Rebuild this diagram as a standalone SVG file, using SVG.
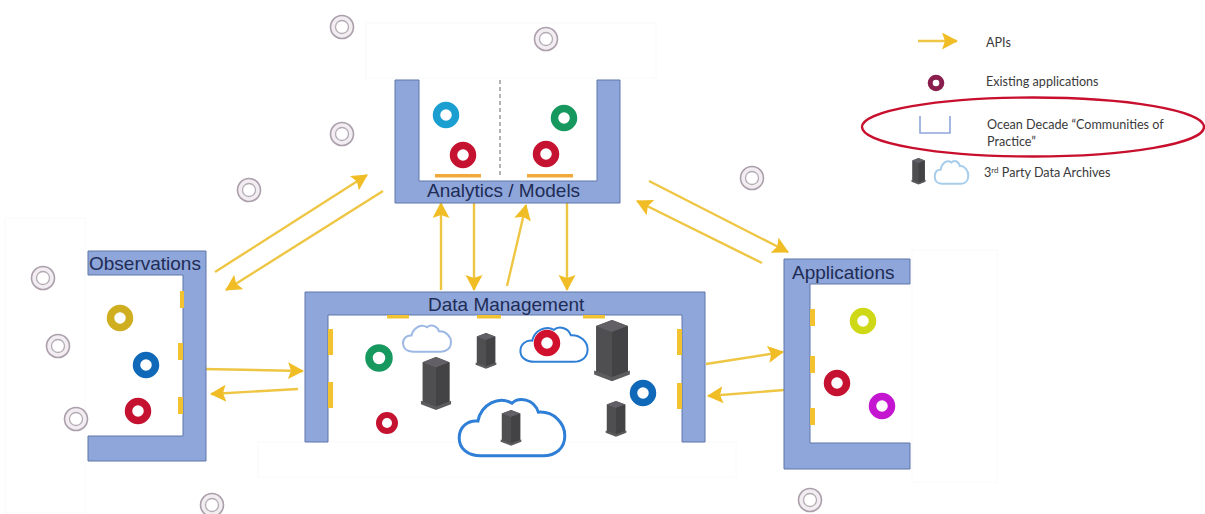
<svg xmlns="http://www.w3.org/2000/svg" width="1205" height="514" viewBox="0 0 1205 514">
<style>
.u{fill:#8ea6da;stroke:#5f77a8;stroke-width:1}
.lab{font-family:"Liberation Sans",Arial,sans-serif;font-size:19px;fill:#1f2c55}
.leg{font-family:"Lato","Liberation Sans",sans-serif;font-size:12.6px;fill:#3a3a3a}
.a{stroke:#eec643;stroke-width:2.4;fill:none;marker-end:url(#h)}
.ring{fill:none;stroke-width:7.5}
.grey{fill:#f1edf1;stroke:#ab9fab;stroke-width:1.6}
.grey2{fill:#fff;stroke:#b5abb5;stroke-width:1.3}
.t{fill:#f2c230}
.t2{fill:#f0a93a}
.faint{fill:none;stroke:#fafafa;stroke-width:1}
.cl{fill:#fff;fill-opacity:.6;stroke:#2f7fd6;stroke-width:3}
.cl2{fill:#fff;stroke:#9db8e4;stroke-width:2}
</style>
<defs>
<marker id="h" markerUnits="userSpaceOnUse" markerWidth="18" markerHeight="18" refX="15" refY="8.5" orient="auto"><path d="M0 0L16 8.5L0 17L3 8.5Z" fill="#f0bd26"/></marker>
<path id="cloud" d="M22 57C9 57 2 50 2 41C2 31 10 25 19 26C22 11 38 3 50 10C56 4 70 6 74 18C88 17 98 28 98 39C98 50 90 57 78 57Z" vector-effect="non-scaling-stroke"/>
<g id="srv">
<path d="M8 10L50 0L92 10L92 90L50 100L8 90Z" fill="#4f4f51"/>
<path d="M8 10L50 20L92 10L50 0Z" fill="#626066"/>
<path d="M50 20L92 10L92 90L50 100Z" fill="#434345"/>
<path d="M3 84L50 95L97 84L97 91L50 102L3 91Z" fill="#5c5c5e"/>
</g>
<g id="g"><circle r="11.5" class="grey"/><circle r="6.5" class="grey2"/></g>
</defs>

<g id="faint-frames">
<rect class="faint" x="366" y="23" width="290" height="55"/>
<rect class="faint" x="258" y="442" width="478" height="35"/>
<rect class="faint" x="5" y="218" width="80" height="295"/>
<rect class="faint" x="912" y="250" width="85" height="232"/>
</g>

<g id="connectors">
<path class="a" d="M215 272L367 175"/>
<path class="a" d="M383 191L226 290"/>
<path class="a" d="M441 290L441 203"/>
<path class="a" d="M474 203L474 290"/>
<path class="a" d="M507 286L526 205"/>
<path class="a" d="M567 203L567 290"/>
<path class="a" d="M649 181L788 252"/>
<path class="a" d="M762 263L637 201"/>
<path class="a" d="M203 369L303 371"/>
<path class="a" d="M298 389L211 394"/>
<path class="a" d="M706 364L783 352"/>
<path class="a" d="M784 390L708 396"/>
</g>

<g id="analytics">
<path class="u" d="M395 80H419V181H597V80H620V203H395Z"/>
<path d="M500 80V178" stroke="#666" stroke-width="1" stroke-dasharray="4 3" fill="none"/>
<rect class="t2" x="435" y="174" width="46" height="3.5"/>
<rect class="t2" x="527" y="174" width="46" height="3.5"/>
<text class="lab" x="427" y="197">Analytics / Models</text>
<circle class="ring" cx="446" cy="115" r="9.5" stroke="#1b9fd0"/>
<circle class="ring" cx="463" cy="155" r="9.5" stroke="#c41230"/>
<circle class="ring" cx="564" cy="118" r="9.5" stroke="#17985f"/>
<circle class="ring" cx="546" cy="154" r="9.5" stroke="#c41230"/>
</g>

<g id="observations">
<path class="u" d="M88 251H206V461H88V436H183V275H88Z"/>
<rect class="t" x="180" y="291" width="4" height="17"/>
<rect class="t" x="178" y="343" width="5" height="17"/>
<rect class="t" x="178" y="397" width="5" height="17"/>
<text class="lab" x="89" y="270">Observations</text>
<circle class="ring" cx="120" cy="318" r="9.5" stroke="#cfae20"/>
<circle class="ring" cx="146" cy="365" r="9.5" stroke="#1069b8"/>
<circle class="ring" cx="138" cy="411" r="9.5" stroke="#c41230"/>
</g>

<g id="data-management">
<path class="u" d="M305 442V292H705V442H682V315H328V442Z"/>
<rect class="t" x="387" y="315" width="22" height="3.5"/>
<rect class="t" x="477" y="315" width="24" height="3.5"/>
<rect class="t" x="583" y="315" width="22" height="3.5"/>
<rect class="t" x="328" y="329" width="5" height="26"/>
<rect class="t" x="328" y="382" width="5" height="26"/>
<rect class="t" x="677" y="329" width="5" height="26"/>
<rect class="t" x="677" y="383" width="5" height="26"/>
<text class="lab" x="428" y="311">Data Management</text>
<use href="#cloud" class="cl2" transform="translate(402 322) scale(.5 .52)"/>
<use href="#cloud" class="cl" style="stroke-width:2" transform="translate(519 323) scale(.7 .68)"/>
<use href="#cloud" class="cl" transform="translate(457 392) scale(1.1 1.12)"/>
<circle class="ring" cx="379" cy="358" r="10" stroke="#17985f"/>
<circle class="ring" cx="387" cy="423" r="8" stroke="#c41230" style="stroke-width:6"/>
<circle class="ring" cx="547" cy="343" r="9.5" stroke="#d0102c"/>
<circle class="ring" cx="643" cy="393" r="9.5" stroke="#1069b8"/>
<use href="#srv" transform="translate(420 357) scale(.32 .52)"/>
<use href="#srv" transform="translate(475 333) scale(.22 .35)"/>
<use href="#srv" transform="translate(593 320) scale(.38 .6)"/>
<use href="#srv" transform="translate(605 401) scale(.22 .35)"/>
<use href="#srv" transform="translate(500 410) scale(.22 .35)"/>
</g>

<g id="applications">
<path class="u" d="M910 259H784V469H910V443H810V284H910Z"/>
<rect class="t" x="810" y="309" width="5" height="17"/>
<rect class="t" x="810" y="356" width="5" height="17"/>
<rect class="t" x="810" y="408" width="5" height="17"/>
<text class="lab" x="792" y="279">Applications</text>
<circle class="ring" cx="863" cy="321" r="9.5" stroke="#cfd816"/>
<circle class="ring" cx="837" cy="383" r="9.5" stroke="#c41230"/>
<circle class="ring" cx="882" cy="406" r="9.5" stroke="#c416d0"/>
</g>

<g id="existing-apps">
<use href="#g" x="342" y="27"/>
<use href="#g" x="546" y="39"/>
<use href="#g" x="342" y="134"/>
<use href="#g" x="249" y="190"/>
<use href="#g" x="752" y="178"/>
<use href="#g" x="43" y="278"/>
<use href="#g" x="58" y="346"/>
<use href="#g" x="76" y="419"/>
<use href="#g" x="212" y="505"/>
<use href="#g" x="810" y="500"/>
</g>

<g id="legend">
<path class="a" d="M918 41L957 41"/>
<text class="leg" x="986" y="47">APIs</text>
<circle cx="936" cy="83" r="5.8" fill="none" stroke="#8a1f4d" stroke-width="5"/>
<text class="leg" x="986" y="86">Existing applications</text>
<path d="M920 116V133H950V116" fill="none" stroke="#8ea6da" stroke-width="1.6"/>
<text class="leg" x="987" y="129">Ocean Decade “Communities of</text>
<text class="leg" x="987" y="146">Practice”</text>
<ellipse cx="1033" cy="127" rx="171" ry="29.5" fill="none" stroke="#c8102e" stroke-width="2.4"/>
<use href="#srv" transform="translate(911 158) scale(.15 .26)"/>
<use href="#cloud" class="cl2" style="stroke:#a8cdea" transform="translate(934 158) scale(.35 .45)"/>
<text class="leg" x="984" y="177">3<tspan font-size="8" dy="-4">rd</tspan><tspan dy="4"> Party Data Archives</tspan></text>
</g>
</svg>
